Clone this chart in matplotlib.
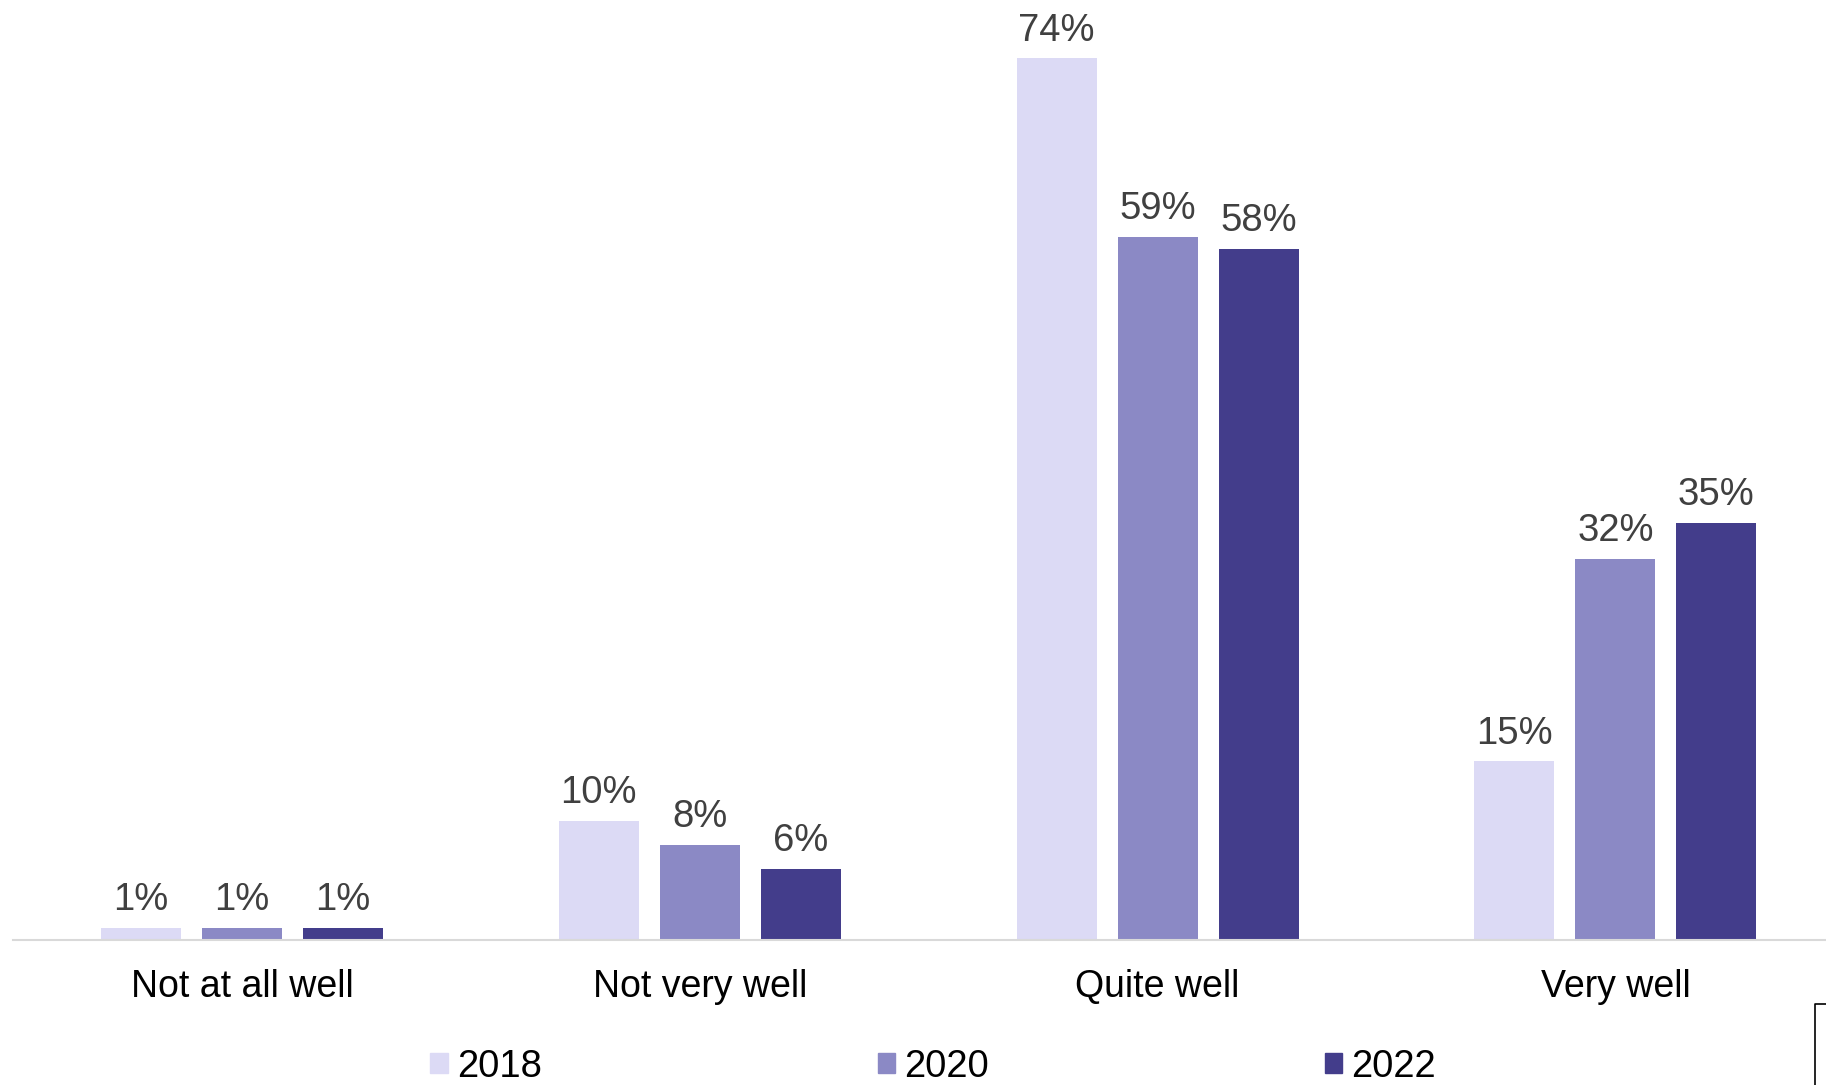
import matplotlib.pyplot as plt
import numpy as np
from matplotlib.patches import Rectangle
from matplotlib.lines import Line2D

plt.rcParams['font.family'] = ['Liberation Sans', 'DejaVu Sans']

categories = ['Not at all well', 'Not very well', 'Quite well', 'Very well']
years = ['2018', '2020', '2022']
vals_2018 = [1, 10, 74, 15]
vals_2020 = [1, 8, 59, 32]
vals_2022 = [1, 6, 58, 35]
colors = ['#DCDAF5', '#8B89C5', '#433D8B']

fig = plt.figure(figsize=(18.26, 10.85), dpi=100)
ax = fig.add_axes([13 / 1826, 145 / 1085, 1 - 13 / 1826, 1 - 145 / 1085])

x = np.arange(len(categories))
pitch = 0.2205
width = 0.1747
for i, (vals, col) in enumerate(zip([vals_2018, vals_2020, vals_2022], colors)):
    pos = x + (i - 1) * pitch
    bars = ax.bar(pos, vals, width=width, color=col, label=years[i])
    for b, v in zip(bars, vals):
        ax.annotate(f'{v}%', (b.get_x() + b.get_width() / 2, v),
                    xytext=(0, 7), textcoords='offset points',
                    ha='center', va='bottom', fontsize=27.5, color='#404040')

ax.set_xlim(-0.5, 3.46)
ax.set_ylim(0, 78.9)
for s in ['top', 'right', 'left']:
    ax.spines[s].set_visible(False)
ax.spines['bottom'].set_color('#D9D9D9')
ax.spines['bottom'].set_linewidth(1.5)
ax.set_yticks([])
ax.set_xticks(x)
ax.set_xticklabels(categories, fontsize=27, color='black')
ax.tick_params(axis='x', length=0, pad=21)

handles = [Rectangle((0, 0), 1, 1, color=c) for c in colors]
fig.legend(handles, years, loc='center', bbox_to_anchor=(0.511, 0.0168),
           ncol=3, frameon=False, fontsize=27.5, handlelength=0.45,
           handleheight=0.45, handletextpad=0.24, columnspacing=8.8,
           borderpad=0, borderaxespad=0)

# stray frame corner at the bottom right
fig.add_artist(Line2D([1815 / 1826, 1815 / 1826, 1], [0, 81 / 1085, 81 / 1085],
                      color='black', linewidth=1.2))

fig.savefig('out.png', dpi=100)
